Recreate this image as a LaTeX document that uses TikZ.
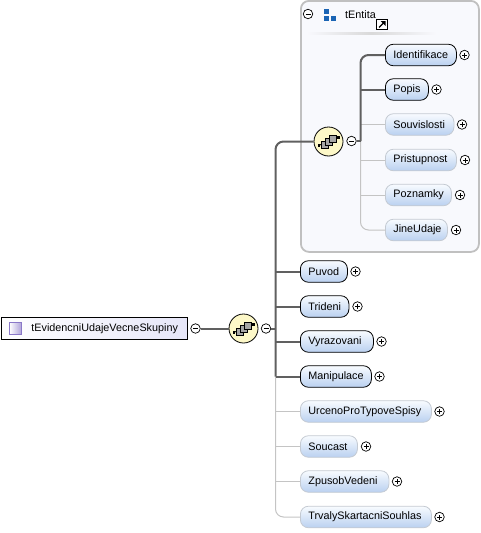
\documentclass[tikz,border=0pt]{standalone}
\usepackage{fontspec}
\setmainfont{Liberation Sans}
\definecolor{darkline}{HTML}{606060}
\definecolor{lightline}{HTML}{C4C4C4}
\definecolor{lightedge}{HTML}{C4CAD2}
\definecolor{panel}{HTML}{F8F9FD}
\definecolor{panelline}{HTML}{C0C0C0}
\definecolor{boxtop}{HTML}{F8FBFF}
\definecolor{boxbot}{HTML}{BAD0F0}
\definecolor{seqfill}{HTML}{FDF8C8}
\definecolor{iconblue}{HTML}{1A64B4}
\definecolor{rootend}{HTML}{E6E6F8}
\definecolor{sqedge}{HTML}{8A78C8}
\tikzset{
  x=1pt,y=-1pt,
  elem/.style={rounded corners=8pt,top color=boxtop,bottom color=boxbot,minimum height=21.5pt,
    anchor=west,inner sep=0pt,font=\fontsize{10.8}{12}\selectfont,text=black},
  req/.style={elem,draw=black,line width=0.8pt},
  opt/.style={elem,draw=lightedge,line width=0.8pt},
  toggle/.style={circle,draw=black,fill=white,line width=0.7pt,minimum size=9.5pt,inner sep=0pt},
  plusmark/.style={toggle,path picture={\draw[line width=0.7pt] (path picture bounding box.center)+(-2.5pt,0)--+(2.5pt,0);
     \draw[line width=0.7pt] (path picture bounding box.center)+(0,-2.5pt)--+(0,2.5pt);}},
  minusmark/.style={toggle,path picture={\draw[line width=0.7pt] (path picture bounding box.center)+(-2.5pt,0)--+(2.5pt,0);}},
  seqcircle/.style={circle,draw=black,fill=seqfill,line width=0.8pt,minimum size=29pt,inner sep=0pt},
  heavy/.style={draw=darkline,line width=2pt},
  slim/.style={draw=lightline,line width=1pt},
}
\newcommand{\seqicon}[1]{%
  \begin{scope}[shift={(#1)}]
    \draw[black,line width=0.9pt] (-10,4)--(10,-4);
    \fill[black] (-11,2.5) rectangle (-8.5,5.5);
    \fill[black] (8.5,-5.5) rectangle (11,-2.5);
    \foreach \dx/\dy in {-4/3,0/0,4/-3}{
      \draw[black,fill=gray!70,line width=0.6pt] (\dx-3.6,\dy-3.6) rectangle (\dx+3.6,\dy+3.6);
    }
  \end{scope}}
% name, style, x, y, right edge, plus centre x
\newcommand{\element}[6]{%
  \pgfmathsetmacro{\boxw}{#5-#3}%
  \node[#2,minimum width=\boxw pt] (#1) at (#3,#4) {\makebox[\boxw pt][l]{\hspace*{8pt}\raisebox{-0.6pt}{#1}}};
  \node[plusmark] (#1P) at (#6,#4) {};
}
\begin{document}
\begin{tikzpicture}
\useasboundingbox (0,0) rectangle (480,533);
% panel
\node[draw=panelline,fill=panel,line width=1.8pt,rounded corners=8pt,minimum width=178pt,minimum height=251pt,anchor=north west,inner sep=0pt] (panelbox) at (300,0) {};
\shade[left color=panel,right color=panel,middle color=gray!30] (307,32.5) rectangle (436,34);
% panel title
\node[minusmark] (mt) at (308,14) {};
\fill[iconblue] (324,9) rectangle (329,14.3);
\fill[iconblue] (324,15.7) rectangle (329,21);
\fill[iconblue] (331.3,15.7) rectangle (336,21);
\node[anchor=west,inner sep=0pt,font=\fontsize{10.8}{12}\selectfont] (ttl) at (345,15) {tEntita};
\node[draw=black,line width=0.9pt,fill=white,minimum size=10.5pt,inner sep=0pt] (lnk) at (382,24.5) {};
\draw[black,line width=1.4pt] (379,27.5)--(384,22.5);
\fill[black] (380.5,21)--(385.5,21)--(385.5,26)--cycle;
% anchors
\coordinate (t1) at (275.5,141.5);
\coordinate (t2) at (275.5,376.5);
\coordinate (t3) at (275.5,517);
\coordinate (u1) at (360.5,55);
\coordinate (u2) at (360.5,141);
\coordinate (u3) at (360.5,230);
% root
\node[draw=black,line width=0.9pt,left color=white,right color=rootend,minimum width=186pt,minimum height=22pt,anchor=west,inner sep=0pt,font=\fontsize{10.8}{12}\selectfont] (root) at (0.5,328.5) {\makebox[186pt][l]{\hspace*{30.5pt}\raisebox{-0.6pt}{tEvidencniUdajeVecneSkupiny}}};
\shade[draw=sqedge,line width=0.8pt,left color=white,right color=sqedge!70] (9.5,322) rectangle (21.5,334.5);
% toggles and sequence nodes
\node[minusmark] (m0) at (195.5,328.5) {};
\node[seqcircle] (s0) at (243.5,328.5) {};
\node[minusmark] (m1) at (266,328.5) {};
\node[seqcircle] (s1) at (328.5,141.5) {};
\node[minusmark] (m2) at (351.5,141) {};
% elements
\element{Identifikace}{req}{385}{55}{456}{464.5}
\element{Popis}{req}{385}{89.5}{428}{436.5}
\element{Souvislosti}{opt}{385}{124.5}{453.5}{462}
\element{Pristupnost}{opt}{385}{160}{456}{465}
\element{Poznamky}{opt}{385}{195}{451}{460}
\element{JineUdaje}{opt}{385}{230}{447}{456}
\element{Puvod}{req}{300}{271.5}{347}{355.5}
\element{Trideni}{req}{300}{306.5}{348.5}{357.5}
\element{Vyrazovani}{req}{300}{341.5}{373}{381.5}
\element{Manipulace}{req}{300}{376.5}{371}{379.5}
\element{UrcenoProTypoveSpisy}{opt}{300}{411.5}{431}{439.5}
\element{Soucast}{opt}{300}{446.5}{357}{366}
\element{ZpusobVedeni}{opt}{300}{481.5}{388.5}{397}
\element{TrvalySkartacniSouhlas}{opt}{300}{517}{431}{439.5}
% connectors
\draw[heavy] (m0) -- (s0);
\draw[heavy] (m1) -- (m1 -| t1);
\draw[slim,rounded corners=8pt] (t2) -- (t3) -- (TrvalySkartacniSouhlas.west);
\foreach \n in {UrcenoProTypoveSpisy,Soucast,ZpusobVedeni}{\draw[slim] (\n.west -| t1) -- (\n.west);}
\draw[heavy,rounded corners=8pt] (s1) -- (t1) -- (t2);
\foreach \n in {Puvod,Trideni,Vyrazovani,Manipulace}{\draw[heavy] (\n.west -| t1) -- (\n.west);}
\draw[slim,rounded corners=8pt] (u2) -- (u3) -- (JineUdaje.west);
\foreach \n in {Souvislosti,Pristupnost,Poznamky}{\draw[slim] (\n.west -| u1) -- (\n.west);}
\draw[heavy] (m2) -- (u2);
\draw[heavy,rounded corners=8pt] (u2) -- (u1) -- (Identifikace.west);
\draw[heavy] (Popis.west -| u1) -- (Popis.west);
\seqicon{s0}
\seqicon{s1}
\end{tikzpicture}
\end{document}
